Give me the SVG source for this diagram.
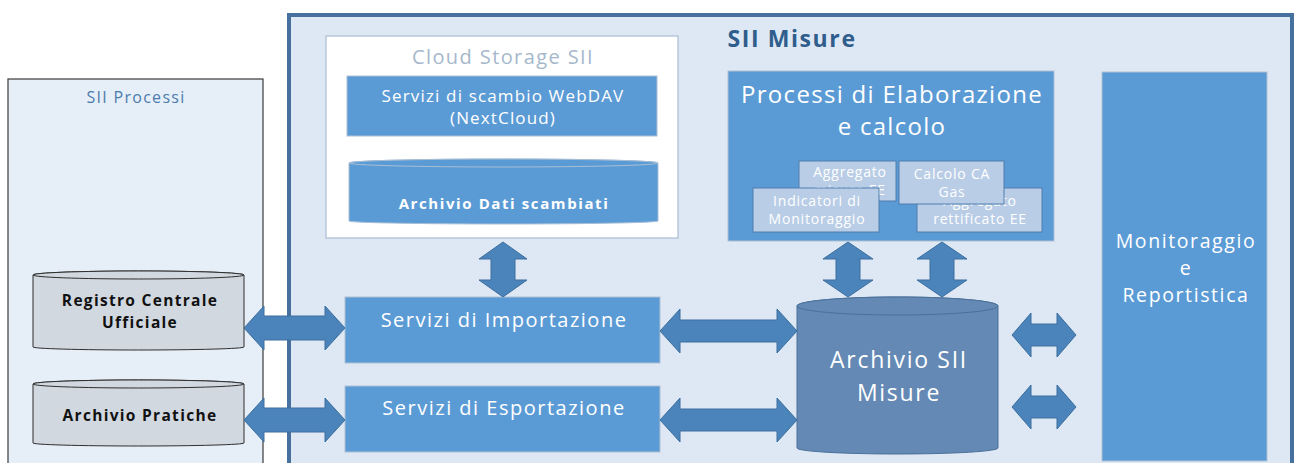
<svg xmlns="http://www.w3.org/2000/svg" width="1296" height="463" viewBox="0 0 1296 463">
<style>
text{font-family:"Open Sans","Noto Sans","DejaVu Sans",sans-serif;text-anchor:middle}
.blue{fill:#5b9bd5;stroke:#aebfd3;stroke-width:1}
.wt{fill:#ffffff}
.small{fill:#b9cde6;stroke:#4f7fb0;stroke-width:1}
.st{fill:#ffffff;font-size:14px;letter-spacing:0.8px}
.arrow{fill:#4a84bb;stroke:#3d6f9e;stroke-width:1}
.gcyl{fill:#d1d8e0;stroke:#2f2f2f;stroke-width:1}
.bold{font-weight:bold;fill:#111111;font-size:15.5px;letter-spacing:1.3px}
.svc{fill:#ffffff;font-size:20px;letter-spacing:1.5px}
</style>
<rect width="1296" height="463" fill="#ffffff"/>
<g id="sii-processi">
<rect x="8" y="79" width="255" height="400" fill="#e6eef8" stroke="#3a3a3a" stroke-width="1.2"/>
<text x="136" y="103" font-size="16" letter-spacing="1.3" fill="#4d7cac">SII Processi</text>
</g>
<g id="sii-misure">
<rect x="289" y="15" width="1003" height="460" fill="#dee8f4" stroke="#46719f" stroke-width="4"/>
<text x="792" y="47" font-size="23" font-weight="bold" letter-spacing="1.6" fill="#2f5d8c">SII Misure</text>
</g>
<g id="cloud-storage">
<rect x="326" y="36" width="352" height="202" fill="#ffffff" stroke="#a9bdd3" stroke-width="1.2"/>
<text x="503" y="64" font-size="20" letter-spacing="1.4" fill="#a6b8cb">Cloud Storage SII</text>
</g>
<g id="webdav">
<rect class="blue" x="347" y="76" width="310" height="60"/>
<text class="wt" x="503" y="102" font-size="17" letter-spacing="1.15">Servizi di scambio WebDAV</text>
<text class="wt" x="503" y="124" font-size="17" letter-spacing="1.15">(NextCloud)</text>
</g>
<g id="archivio-dati">
<path d="M349,163 A154.5,4 0 0 1 658,163 L658,221 A154.5,3 0 0 1 349,221 Z" fill="#5b9bd5" stroke="#a8bfd6" stroke-width="1"/>
<ellipse cx="503.5" cy="163" rx="154.5" ry="4" fill="#5b9bd5" stroke="#a8bfd6" stroke-width="1"/>
<text x="504" y="209" font-size="15" font-weight="bold" letter-spacing="1.6" fill="#ffffff">Archivio Dati scambiati</text>
</g>
<g id="processi-elaborazione">
<rect class="blue" x="728" y="71" width="326" height="170"/>
<text class="wt" x="892" y="103" font-size="24" letter-spacing="1.3">Processi di Elaborazione</text>
<text class="wt" x="892" y="135" font-size="24" letter-spacing="1.3">e calcolo</text>
</g>
<g id="aggregato-misure">
<rect class="small" x="799" y="161" width="97" height="40"/>
<text class="st" x="850" y="177">Aggregato</text>
<text class="st" x="850" y="195">misure EE</text>
</g>
<g id="indicatori">
<rect class="small" x="753" y="188" width="126" height="44"/>
<text class="st" x="817" y="206">Indicatori di</text>
<text class="st" x="817" y="224">Monitoraggio</text>
</g>
<g id="aggregato-rettificato">
<rect class="small" x="917" y="188" width="125" height="44"/>
<text class="st" x="980" y="206">Aggregato</text>
<text class="st" x="980" y="224">rettificato EE</text>
</g>
<g id="calcolo-ca-gas">
<rect class="small" x="899" y="161" width="105" height="43"/>
<text class="st" x="952" y="179">Calcolo CA</text>
<text class="st" x="952" y="197">Gas</text>
</g>
<g id="monitoraggio">
<rect class="blue" x="1102" y="72" width="165" height="389"/>
<text class="wt" x="1186" y="248" font-size="19.5" letter-spacing="1.6">Monitoraggio</text>
<text class="wt" x="1186" y="275" font-size="19.5" letter-spacing="1.6">e</text>
<text class="wt" x="1186" y="302" font-size="19.5" letter-spacing="1.6">Reportistica</text>
</g>
<g id="importazione">
<rect class="blue" x="345" y="297" width="315" height="66"/>
<text class="svc" x="504" y="327">Servizi di Importazione</text>
</g>
<g id="esportazione">
<rect class="blue" x="345" y="386" width="315" height="66"/>
<text class="svc" x="504" y="415">Servizi di Esportazione</text>
</g>
<g id="archivio-sii">
<path d="M797,306 A100.5,9 0 0 1 998,306 L998,448 A100.5,6 0 0 1 797,448 Z" fill="#6389b4" stroke="#4b709a" stroke-width="1"/>
<ellipse cx="897.5" cy="306" rx="100.5" ry="9" fill="#6389b4" stroke="#4b709a" stroke-width="1"/>
<text class="wt" x="899" y="368" font-size="23" letter-spacing="1.7">Archivio SII</text>
<text class="wt" x="899" y="401" font-size="23" letter-spacing="1.7">Misure</text>
</g>
<g id="registro">
<path class="gcyl" d="M33,275 A105.5,4 0 0 1 244,275 L244,347 A105.5,3 0 0 1 33,347 Z"/>
<ellipse class="gcyl" cx="138.5" cy="275" rx="105.5" ry="4"/>
<text class="bold" x="140" y="306">Registro Centrale</text>
<text class="bold" x="140" y="328">Ufficiale</text>
</g>
<g id="archivio-pratiche">
<path class="gcyl" d="M33,384 A105.5,4 0 0 1 244,384 L244,443 A105.5,3 0 0 1 33,443 Z"/>
<ellipse class="gcyl" cx="138.5" cy="384" rx="105.5" ry="4"/>
<text class="bold" x="140" y="421">Archivio Pratiche</text>
</g>
<g id="connectors">
<polygon class="arrow" points="244,328 264,306 264,316 325,316 325,306 345,328 325,350 325,340 264,340 264,350"/>
<polygon class="arrow" points="244,420 264,398 264,408 325,408 325,398 345,420 325,442 325,432 264,432 264,442"/>
<polygon class="arrow" points="660,331 680,309 680,320 777,320 777,309 797,331 777,353 777,342 680,342 680,353"/>
<polygon class="arrow" points="660,420 680,398 680,409 777,409 777,398 797,420 777,442 777,431 680,431 680,442"/>
<polygon class="arrow" points="1012,335 1031,313 1031,324 1057,324 1057,313 1076,335 1057,357 1057,346 1031,346 1031,357"/>
<polygon class="arrow" points="1012,407 1031,385 1031,396 1057,396 1057,385 1076,407 1057,429 1057,418 1031,418 1031,429"/>
<polygon class="arrow" points="503,242 527,259 515,259 515,280 527,280 503,297 479,280 491,280 491,259 479,259"/>
<polygon class="arrow" points="848,242 873,259 860,259 860,280 873,280 848,297 823,280 836,280 836,259 823,259"/>
<polygon class="arrow" points="942,242 967,259 954,259 954,280 967,280 942,297 917,280 930,280 930,259 917,259"/>
</g>
</svg>
